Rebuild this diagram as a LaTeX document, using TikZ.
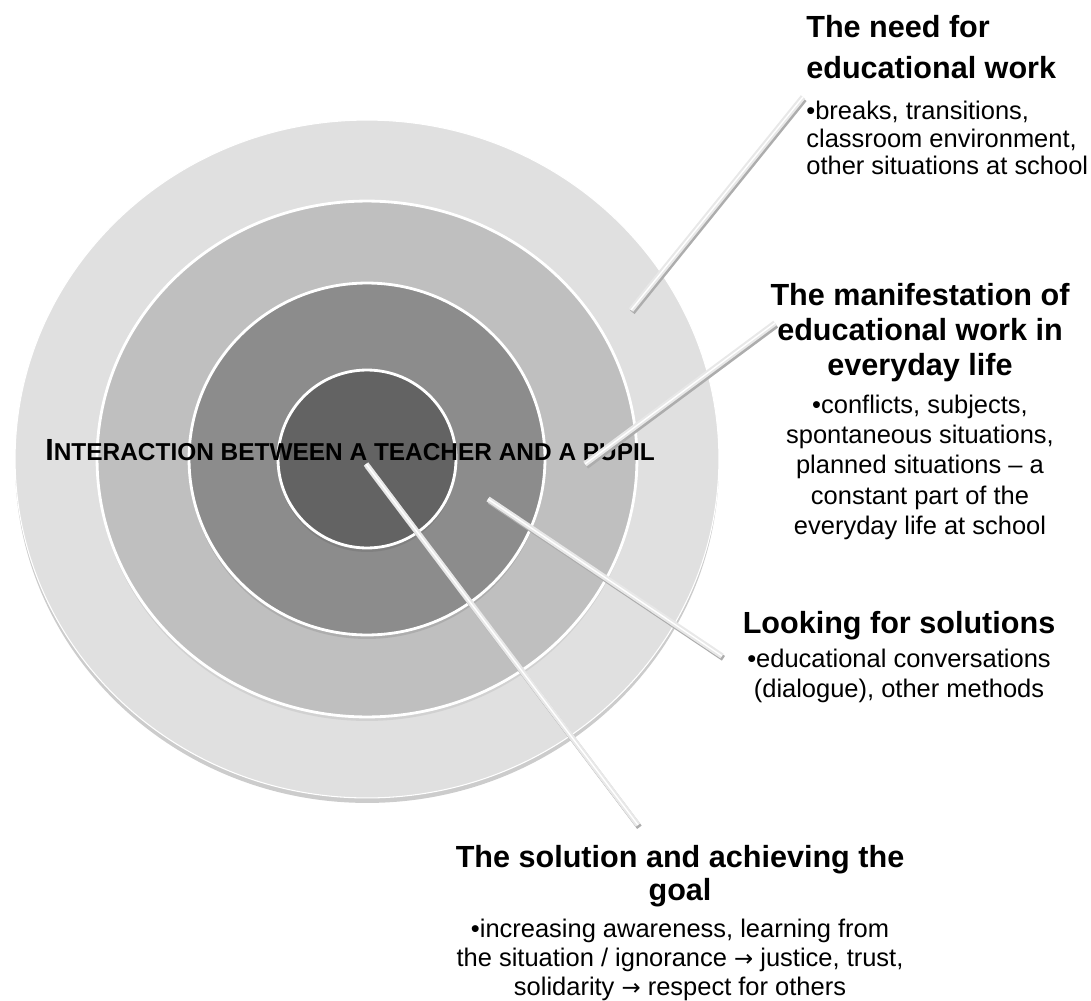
\documentclass[tikz,border=0pt]{standalone}
\usepackage{fontspec}
\setmainfont{Liberation Sans}
\newfontfamily\arrowfont{DejaVu Sans}
\newcommand{\toarrow}{{\arrowfont\fontsize{13}{13}\selectfont →}}
\usetikzlibrary{positioning}
\tikzstyle{headline} = [inner sep=0, font=\bfseries\fontsize{17.4}{23.2}\selectfont]
\tikzstyle{detail} = [inner sep=0, font=\fontsize{14.5}{16.6}\selectfont]
\tikzstyle{spoke} = [line width=3.2pt, draw=black!9, preaction={draw=black!32, line width=3.2pt, transform canvas={xshift=0.8pt, yshift=-1.3pt}}, postaction={draw=white, line width=0.8pt}]

\begin{document}
\begin{tikzpicture}[x=0.02cm, y=-0.02cm]
  \useasboundingbox (0,0) rectangle (1091,1000);
  \coordinate (mid) at (367,459);
  % target rings
  \fill[black!20] ([yshift=-0.1cm]mid) ellipse [x radius=7.04cm, y radius=6.78cm];
  \filldraw[fill=black!12, draw=white, line width=0.6pt] (mid) ellipse [x radius=7.04cm, y radius=6.78cm];
  \fill[black!18] ([yshift=-0.08cm]mid) ellipse [x radius=5.4cm, y radius=5.16cm];
  \filldraw[fill=black!25, draw=white, line width=1.6pt] (mid) ellipse [x radius=5.4cm, y radius=5.16cm];
  \fill[black!32] ([yshift=-0.08cm]mid) ellipse [x radius=3.56cm, y radius=3.52cm];
  \filldraw[fill=black!45, draw=white, line width=1.6pt] (mid) ellipse [x radius=3.56cm, y radius=3.52cm];
  \fill[black!50] ([yshift=-0.08cm]mid) ellipse [x radius=1.78cm, y radius=1.78cm];
  \filldraw[fill=black!61, draw=white, line width=1.6pt] (mid) ellipse [x radius=1.78cm, y radius=1.78cm];

  \node (pair) [anchor=base west, inner sep=0] at (45,460) {\bfseries\fontsize{17.4}{20}\selectfont I{\fontsize{13.9}{16}\selectfont NTERACTION BETWEEN A TEACHER AND A PUPIL}};

  % labels on the right
  \node (needhead) [headline, anchor=north west, align=left] at (806,15) {The need for\\educational work};
  \node (needtext) [detail, align=left, below=0.44cm of needhead.south west, anchor=north west, font=\fontsize{14.5}{15.6}\selectfont] {•breaks, transitions,\\classroom environment,\\other situations at school};

  \node (showhead) [headline, anchor=north, align=center, font=\bfseries\fontsize{17.4}{19.8}\selectfont] at (920,283) {The manifestation of\\educational work in\\everyday life};
  \node (showtext) [detail, align=center, below=0.25cm of showhead, font=\fontsize{14.5}{17.3}\selectfont] {•conflicts, subjects,\\spontaneous situations,\\planned situations – a\\constant part of the\\everyday life at school};

  \node (seekhead) [headline, anchor=north] at (899,611) {Looking for solutions};
  \node (seektext) [detail, align=center, below=0.17cm of seekhead, font=\fontsize{14.5}{17}\selectfont] {•educational conversations\\(dialogue), other methods};

  \node (goalhead) [headline, anchor=north, align=center, font=\bfseries\fontsize{17.4}{18.7}\selectfont] at (680,845) {The solution and achieving the\\goal};
  \node (goaltext) [detail, align=center, below=0.23cm of goalhead, font=\fontsize{14.5}{16.4}\selectfont] {•increasing awareness, learning from\\the situation / ignorance \toarrow{} justice, trust,\\solidarity \toarrow{} respect for others};

  % spokes
  \coordinate (need-in) at (631,310);
  \coordinate (need-out) at (803,97);
  \coordinate (show-in) at (585,464);
  \coordinate (show-out) at (775,323);
  \coordinate (seek-in) at (488,499);
  \coordinate (seek-out) at (722,656);
  \coordinate (goal-in) at (366,464);
  \coordinate (goal-out) at (638,825);
  \draw [spoke] (need-in) -- (need-out);
  \draw [spoke] (show-in) -- (show-out);
  \draw [spoke] (seek-in) -- (seek-out);
  \draw [spoke] (goal-in) -- (goal-out);
\end{tikzpicture}
\end{document}
